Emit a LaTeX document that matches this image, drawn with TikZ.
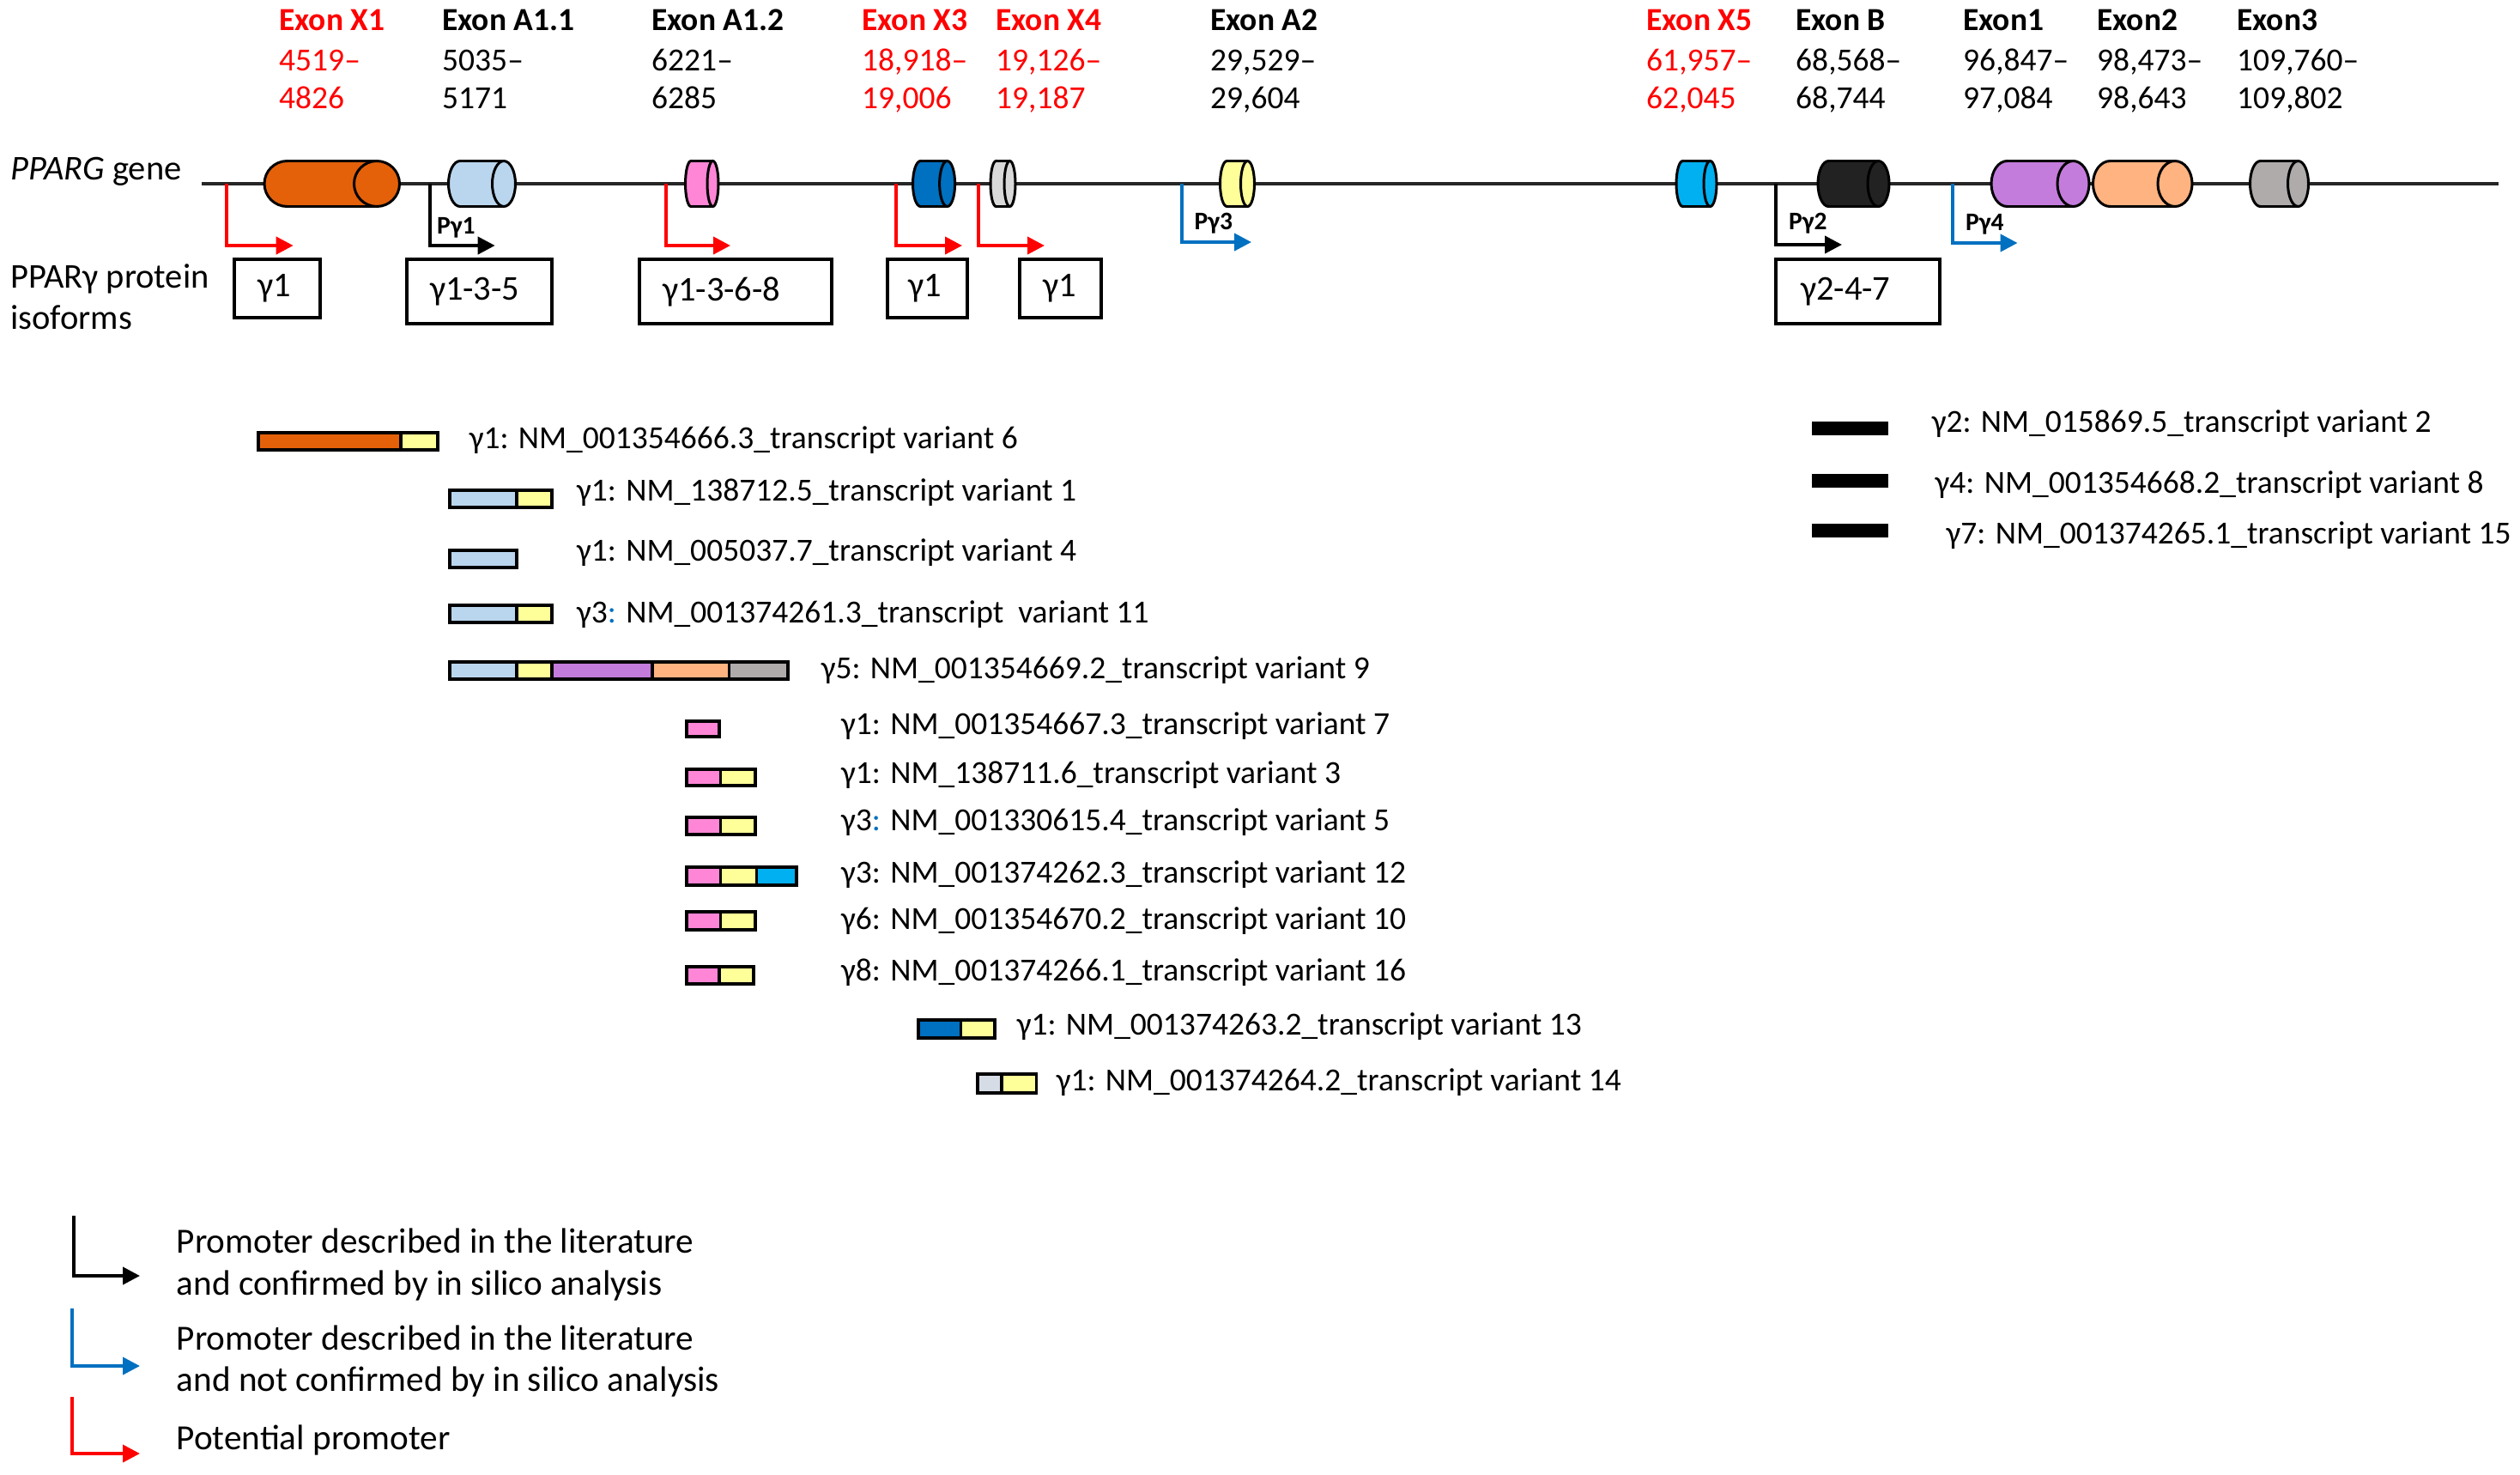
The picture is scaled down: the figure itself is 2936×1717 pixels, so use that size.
\documentclass[tikz,border=0pt]{standalone}
\usepackage{fontspec}
\setmainfont{Carlito}
\usetikzlibrary{arrows.meta}
\definecolor{cX1}{RGB}{228,97,10}
\definecolor{cA11}{RGB}{186,214,238}
\definecolor{cA12}{RGB}{255,134,214}
\definecolor{cX3}{RGB}{0,112,192}
\definecolor{cX4}{RGB}{217,217,217}
\definecolor{cA2}{RGB}{255,255,153}
\definecolor{cX5}{RGB}{0,176,240}
\definecolor{cB}{RGB}{34,34,34}
\definecolor{cE1}{RGB}{196,124,220}
\definecolor{cE2}{RGB}{255,179,128}
\definecolor{cE3}{RGB}{175,171,171}
\definecolor{cV14}{RGB}{214,220,229}
\definecolor{pred}{RGB}{255,0,0}
\definecolor{pblue}{RGB}{0,112,192}
\tikzset{
 hdr/.style={anchor=base west, inner sep=0pt, font=\fontsize{37.5}{45}\selectfont},
 hdrb/.style={anchor=base west, inner sep=0pt, font=\fontsize{37.5}{45}\selectfont\bfseries},
 lbl/.style={anchor=base west, inner sep=0pt, font=\fontsize{40.5}{49}\selectfont},
 lglbl/.style={anchor=base west, inner sep=0pt, font=\fontsize{41.2}{49}\selectfont},
 tlbl/.style={anchor=base west, inner sep=0pt, font=\fontsize{37.5}{45}\selectfont},
 plbl/.style={anchor=base west, inner sep=0pt, font=\fontsize{29.5}{36}\selectfont\bfseries},
 isobox/.style={draw, line width=3.5pt, inner xsep=27pt, inner ysep=0pt, align=left, font=\fontsize{40.5}{49}\selectfont},
 geneline/.style={line width=3.5pt, draw=black!85},
 cylline/.style={line width=3pt},
 prom/.style={line width=4pt, -{Triangle[length=20pt,width=20pt]}},
 tbar/.style={line width=3.5pt},
}
\newcommand{\exhdr}[6]{%
 \node[hdrb, text=#3] (#1t) at (#2,35.5) {#4};
 \node[hdr, text=#3] (#1a) at (#2,82) {#5--};
 \node[hdr, text=#3] (#1b) at (#2,126) {#6};}
\newcommand{\cyl}[5]{%
 \draw[cylline, fill=#4] (#1,214) ellipse[x radius=#3pt, y radius=26.5pt];
 \fill[#4] (#1,187.5) rectangle (#2,240.5);
 \draw[cylline] (#1,187.5) -- (#2,187.5) (#1,240.5) -- (#2,240.5);
 \draw[cylline, fill=#4] (#2,214) ellipse[x radius=#3pt, y radius=26.5pt];
 \coordinate (#5) at (#2,214);}
\newcommand{\seg}[5]{\draw[tbar, fill=#5] (#1,#3) rectangle (#2,#4);}
\newcommand{\bcolon}{{\color{pblue}:}}
\begin{document}
\begin{tikzpicture}[x=1pt,y=-1pt]
\useasboundingbox (0,0) rectangle (2936,1717);
\fill[white] (0,0) rectangle (2936,1717);

% headers
\exhdr{hX1}{325}{pred}{Exon X1}{4519}{4826}
\exhdr{hA11}{515}{black}{Exon A1.1}{5035}{5171}
\exhdr{hA12}{759}{black}{Exon A1.2}{6221}{6285}
\exhdr{hX3}{1004}{pred}{Exon X3}{18,918}{19,006}
\exhdr{hX4}{1160}{pred}{Exon X4}{19,126}{19,187}
\exhdr{hA2}{1410}{black}{Exon A2}{29,529}{29,604}
\exhdr{hX5}{1918}{pred}{Exon X5}{61,957}{62,045}
\exhdr{hB}{2092}{black}{Exon B}{68,568}{68,744}
\exhdr{hE1}{2287}{black}{Exon1}{96,847}{97,084}
\exhdr{hE2}{2443}{black}{Exon2}{98,473}{98,643}
\exhdr{hE3}{2606}{black}{Exon3}{109,760}{109,802}

% left labels
\node[lbl] (genelbl) at (12,209) {\textit{PPARG} gene};
\node[lbl] (isolbl1) at (12,335) {PPARγ protein};
\node[lbl] (isolbl2) at (12,383) {isoforms};

% gene line
\coordinate (gL) at (235,214);
\coordinate (gR) at (2911,214);
\draw[geneline] (gL) -- (gR);

% exons
\cyl{334.5}{439}{26.5}{cX1}{eX1}
\cyl{536}{587}{13.5}{cA11}{eA11}
\cyl{805}{830.5}{6.5}{cA12}{eA12}
\cyl{1072.5}{1103.6}{9}{cX3}{eX3}
\cyl{1160.5}{1176.5}{6.5}{cX4}{eX4}
\cyl{1429.5}{1453.5}{8}{cA2}{eA2}
\cyl{1960.5}{1992.5}{7.5}{cX5}{eX5}
\cyl{2130.5}{2188.5}{12.5}{cB}{eB}
\cyl{2338.5}{2415.5}{18.5}{cE1}{eE1}
\cyl{2458.5}{2534}{20}{cE2}{eE2}
\cyl{2633.5}{2677.5}{12}{cE3}{eE3}

% promoters
\coordinate (p1s) at (264,214);   \coordinate (p1e) at (341.7,286);
\coordinate (p2s) at (501,214);   \coordinate (p2e) at (576.7,286);
\coordinate (p3s) at (776,214);   \coordinate (p3e) at (851,286);
\coordinate (p4s) at (1044,214);  \coordinate (p4e) at (1121,286);
\coordinate (p5s) at (1140,214);  \coordinate (p5e) at (1217,286);
\coordinate (p6s) at (1377,214);  \coordinate (p6e) at (1458,282);
\coordinate (p7s) at (2068.5,214);\coordinate (p7e) at (2146,285);
\coordinate (p8s) at (2274.6,214);\coordinate (p8e) at (2350.6,283);
\draw[prom, pred] (p1s) |- (p1e);
\draw[prom, black] (p2s) |- (p2e);
\draw[prom, pred] (p3s) |- (p3e);
\draw[prom, pred] (p4s) |- (p4e);
\draw[prom, pred] (p5s) |- (p5e);
\draw[prom, pblue] (p6s) |- (p6e);
\draw[prom, black] (p7s) |- (p7e);
\draw[prom, pblue] (p8s) |- (p8e);
\node[plbl] (pg1) at (509,272.5) {Pγ1};
\node[plbl] (pg3) at (1391.5,267) {Pγ3};
\node[plbl] (pg2) at (2084,267) {Pγ2};
\node[plbl] (pg4) at (2290,268) {Pγ4};

% isoform boxes
\node[isobox, text width=46pt, minimum height=68pt] (b1) at (323,336) {γ1};
\node[isobox, text width=115pt, minimum height=75pt] (b2) at (558.5,339.5) {γ1-3-5};
\node[isobox, text width=170pt, minimum height=75pt] (b3) at (857,339.5) {γ1-3-6-8};
\node[isobox, inner xsep=24pt, text width=45pt, minimum height=68pt] (b4) at (1080.5,336) {γ1};
\node[isobox, text width=41pt, minimum height=68pt] (b5) at (1235.5,336) {γ1};
\node[isobox, inner xsep=29pt, text width=133pt, minimum height=75pt] (b6) at (2164.5,339.5) {γ2-4-7};

% transcripts
\seg{301}{467}{504}{524}{cX1}\seg{467}{510}{504}{524}{cA2}
\node[tlbl] (t1) at (546.6,522) {γ1: NM\_001354666.3\_transcript variant 6};
\seg{524}{602}{571}{591}{cA11}\seg{602}{643}{571}{591}{cA2}
\node[tlbl] (t2) at (672,583) {γ1: NM\_138712.5\_transcript variant 1};
\seg{524}{602}{641}{661}{cA11}
\node[tlbl] (t3) at (672,653) {γ1: NM\_005037.7\_transcript variant 4};
\seg{524}{602}{705}{725}{cA11}\seg{602}{643}{705}{725}{cA2}
\node[tlbl] (t4) at (672,725) {γ3\bcolon{} NM\_001374261.3\_transcript\ \ variant 11};
\seg{524}{602}{771}{791}{cA11}\seg{602}{643}{771}{791}{cA2}\seg{643}{760}{771}{791}{cE1}\seg{760}{849.5}{771}{791}{cE2}\seg{849.5}{918}{771}{791}{cE3}
\node[tlbl] (t5) at (956.6,790) {γ5: NM\_001354669.2\_transcript variant 9};
\seg{800}{838}{840}{858}{cA12}
\node[tlbl] (t6) at (980,855) {γ1: NM\_001354667.3\_transcript variant 7};
\seg{800}{839.5}{896}{915}{cA12}\seg{839.5}{880}{896}{915}{cA2}
\node[tlbl] (t7) at (980,912) {γ1: NM\_138711.6\_transcript variant 3};
\seg{800}{839.5}{952}{972}{cA12}\seg{839.5}{880}{952}{972}{cA2}
\node[tlbl] (t8) at (980,967) {γ3\bcolon{} NM\_001330615.4\_transcript variant 5};
\seg{800}{839.5}{1010}{1031}{cA12}\seg{839.5}{881.6}{1010}{1031}{cA2}\seg{881.6}{928}{1010}{1031}{cX5}
\node[tlbl] (t9) at (980,1028) {γ3: NM\_001374262.3\_transcript variant 12};
\seg{800}{839.5}{1062}{1083}{cA12}\seg{839.5}{880}{1062}{1083}{cA2}
\node[tlbl] (t10) at (980,1082) {γ6: NM\_001354670.2\_transcript variant 10};
\seg{800}{838}{1126}{1146}{cA12}\seg{838}{878}{1126}{1146}{cA2}
\node[tlbl] (t11) at (980,1142) {γ8: NM\_001374266.1\_transcript variant 16};
\seg{1070}{1119.6}{1188}{1209}{cX3}\seg{1119.6}{1159}{1188}{1209}{cA2}
\node[tlbl] (t12) at (1184.7,1205) {γ1: NM\_001374263.2\_transcript variant 13};
\seg{1139}{1167}{1251}{1273}{cV14}\seg{1167}{1207.6}{1251}{1273}{cA2}
\node[tlbl] (t13) at (1230.6,1270) {γ1: NM\_001374264.2\_transcript variant 14};

% right-hand transcripts
\fill[black] (2111,491) rectangle (2200,507);
\node[tlbl] (r1) at (2250.6,503) {γ2: NM\_015869.5\_transcript variant 2};
\fill[black] (2111,552) rectangle (2200,568);
\node[tlbl] (r2) at (2254.5,574) {γ4: NM\_001354668.2\_transcript variant 8};
\fill[black] (2111,610) rectangle (2200,626);
\node[tlbl] (r3) at (2267.5,633) {γ7: NM\_001374265.1\_transcript variant 15};

% legend
\coordinate (l1s) at (86,1416);  \coordinate (l1e) at (163,1486);
\coordinate (l2s) at (84,1524);  \coordinate (l2e) at (163,1591);
\coordinate (l3s) at (84,1627);  \coordinate (l3e) at (163,1693);
\draw[prom, black] (l1s) |- (l1e);
\draw[prom, pblue] (l2s) |- (l2e);
\draw[prom, pred] (l3s) |- (l3e);
\node[lglbl] (lg1a) at (205.5,1459) {Promoter described in the literature};
\node[lglbl] (lg1b) at (205.5,1508) {and confirmed by in silico analysis};
\node[lglbl] (lg2a) at (205.5,1572) {Promoter described in the literature};
\node[lglbl] (lg2b) at (205.5,1620) {and not confirmed by in silico analysis};
\node[lglbl] (lg3) at (205.5,1688) {Potential promoter};
\end{tikzpicture}
\end{document}
